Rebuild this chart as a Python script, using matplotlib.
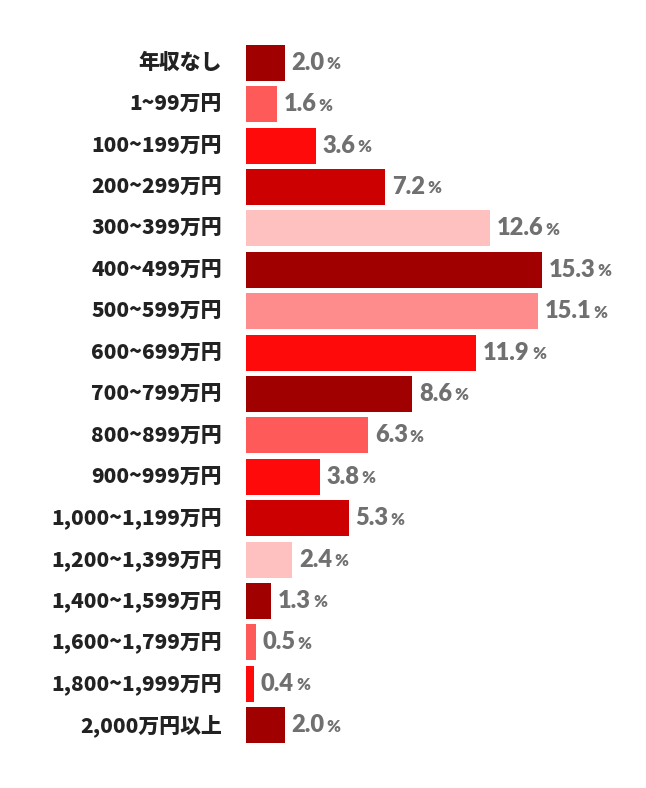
import matplotlib.pyplot as plt

categories = ["年収なし", "1~99万円", "100~199万円", "200~299万円", "300~399万円",
              "400~499万円", "500~599万円", "600~699万円", "700~799万円", "800~899万円",
              "900~999万円", "1,000~1,199万円", "1,200~1,399万円", "1,400~1,599万円",
              "1,600~1,799万円", "1,800~1,999万円", "2,000万円以上"]
values = [2.0, 1.6, 3.6, 7.2, 12.6, 15.3, 15.1, 11.9, 8.6, 6.3, 3.8, 5.3, 2.4, 1.3, 0.5, 0.4, 2.0]
colors = ["#a00000", "#ff5a5a", "#ff0a0a", "#cc0000", "#ffc0c0", "#a00000", "#ff8c8c",
          "#ff0a0a", "#a00000", "#ff5a5a", "#ff0a0a", "#cc0000", "#ffc0c0", "#a00000",
          "#ff5a5a", "#ff0a0a", "#a00000"]

plt.rcParams["font.family"] = "Noto Sans CJK JP"
fig = plt.figure(figsize=(6.46, 7.88), dpi=100)
ax = fig.add_axes([246 / 646, 1 - 746 / 788, 400 / 646, 704 / 788])
ypos = list(range(len(values)))
ax.barh(ypos, values, height=0.87, color=colors)
ax.set_xlim(0, 400 / 19.35)
ax.set_ylim(len(values) - 0.5, -0.5)
ax.axis("off")

for y, cat in zip(ypos, categories):
    ax.text(-24 / 19.35, y, cat, ha="right", va="center", fontsize=15,
            fontweight="black", color="#222222")

fig.canvas.draw()
r = fig.canvas.get_renderer()
for y, v in zip(ypos, values):
    t = ax.annotate(f"{v:.1f}", (v, y), xytext=(5, 0), textcoords="offset points",
                    ha="left", va="center", fontsize=17, fontweight="black",
                    color="#707070", family="Lato")
    w = t.get_window_extent(r).width * 72 / fig.dpi
    ax.annotate("%", (v, y), xytext=(5 + w + 1.5, -1), textcoords="offset points",
                ha="left", va="center", fontsize=12, fontweight="black",
                color="#707070", family="Lato")

fig.savefig("out.png", dpi=100)
